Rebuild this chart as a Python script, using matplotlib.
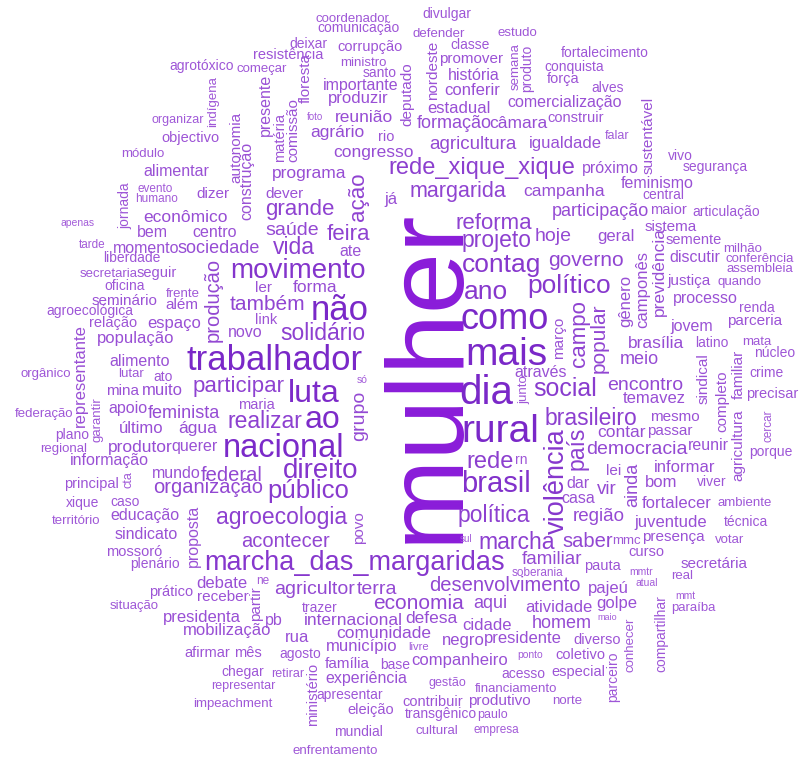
import numpy as np
import matplotlib
matplotlib.use('Agg')
import matplotlib.pyplot as plt
from matplotlib.colors import to_rgb

plt.rcParams['font.family'] = ['Liberation Sans', 'DejaVu Sans']

# word, frequency (drawn as font size in pt), centre x, centre y (pixels), vertical?
headline = [
    ("mulher", 79, 424, 375, 1),
]

top_words = [
    ("coordenador", 9.5, 352, 18, 0), ("comunicação", 10, 358, 28, 0),
    ("divulgar", 10, 447, 14, 0), ("defender", 9.5, 439, 33, 0),
    ("estudo", 9.5, 517, 32, 0), ("classe", 10, 470, 45, 0),
    ("deixar", 10, 308, 44, 0), ("corrupção", 10.5, 370, 47, 0),
    ("resistência", 10.5, 288, 55, 0), ("ministro", 9.5, 363, 62, 0),
    ("agrotóxico", 10, 202, 66, 0), ("começar", 9.5, 262, 68, 0),
    ("santo", 10, 380, 73, 0), ("importante", 11.5, 361, 85, 0),
    ("produzir", 12, 358, 98, 0), ("foto", 7, 315, 117, 0),
    ("reunião", 12.5, 364, 117, 0), ("organizar", 9, 178, 119, 0),
    ("indígena", 9.5, 212, 102, 1), ("autonomia", 11, 236, 147, 1),
    ("construção", 11.5, 247, 181, 1), ("presente", 11.5, 265, 105, 1),
    ("matéria", 10.5, 280, 137, 1), ("comissão", 11, 293, 130, 1),
    ("floresta", 11, 305, 78, 1), ("agrário", 12.5, 337, 132, 0),
    ("rio", 10.5, 386, 137, 0), ("congresso", 12.5, 373, 152, 0),
    ("objectivo", 10.5, 190, 138, 0), ("módulo", 9.5, 143, 153, 0),
    ("promover", 11, 471, 58, 0), ("história", 11.5, 474, 75, 0),
    ("conferir", 12, 472, 90, 0), ("nordeste", 11, 432, 70, 1),
    ("deputado", 11, 407, 94, 1), ("semana", 9.5, 515, 67, 1),
    ("produto", 10, 527, 68, 1), ("estadual", 12, 459, 108, 0),
    ("formação", 13, 454, 123, 0), ("câmara", 12.5, 518, 123, 0),
    ("construir", 10.5, 576, 118, 0), ("comercialização", 11.5, 565, 102, 0),
    ("alves", 10, 608, 88, 0), ("força", 10.5, 563, 79, 0),
    ("conquista", 10, 574, 67, 0), ("fortalecimento", 10, 605, 53, 0),
    ("agricultura", 13.5, 473, 143, 0), ("igualdade", 12, 565, 143, 0),
    ("falar", 9, 617, 135, 0), ("sustentável", 11, 648, 135, 1),
]

left_words = [
    ("alimentar", 11.5, 176, 171, 0), ("apenas", 7.5, 78, 223, 0),
    ("jornada", 10, 125, 206, 1), ("evento", 8.5, 155, 188, 0),
    ("humano", 8.5, 157, 198, 0), ("dizer", 11, 213, 193, 0),
    ("econômico", 12.5, 185, 217, 0), ("bem", 11.5, 152, 232, 0),
    ("centro", 11.5, 215, 232, 0), ("tarde", 8.5, 92, 244, 0),
    ("momento", 11.5, 146, 248, 0), ("sociedade", 13, 219, 248, 0),
    ("liberdade", 10, 132, 258, 0), ("secretaria", 9.5, 109, 273, 0),
    ("seguir", 10.5, 157, 273, 0), ("oficina", 10, 125, 286, 0),
    ("frente", 9.5, 183, 293, 0), ("além", 11, 182, 304, 0),
    ("seminário", 11, 125, 300, 0), ("agroecológica", 10, 90, 311, 0),
    ("relação", 10.5, 113, 323, 0), ("espaço", 12, 174, 323, 0),
    ("população", 12, 136, 338, 0), ("produção", 14.5, 213, 300, 1),
    ("representante", 12, 80, 376, 1), ("orgânico", 9.5, 46, 373, 0),
    ("alimento", 11.5, 140, 361, 0), ("lutar", 9.5, 131, 373, 0),
    ("ato", 10, 163, 377, 0), ("mina", 11, 123, 390, 0),
    ("muito", 12, 162, 390, 0), ("federação", 9.5, 44, 413, 0),
    ("garantir", 9.5, 97, 420, 1), ("apoio", 11.5, 128, 408, 0),
    ("feminista", 13, 184, 413, 0), ("último", 12, 141, 428, 0),
    ("água", 12.5, 198, 428, 0), ("plano", 10, 72, 435, 0),
    ("regional", 9.5, 64, 448, 0), ("produtor", 12.5, 140, 447, 0),
    ("querer", 11.5, 195, 446, 0), ("informação", 11.5, 109, 460, 0),
    ("mundo", 11.5, 176, 473, 0), ("principal", 10.5, 91, 484, 0),
    ("cta", 9, 128, 480, 1), ("xique", 10, 83, 503, 0),
    ("caso", 10, 125, 502, 0), ("território", 9.5, 76, 520, 0),
    ("educação", 11.5, 145, 515, 0), ("proposta", 11.5, 193, 536, 1),
    ("sindicato", 11.5, 146, 534, 0), ("mossoró", 10.5, 134, 552, 0),
    ("plenário", 10, 155, 564, 0), ("prático", 10.5, 171, 592, 0),
    ("situação", 9.5, 134, 605, 0), ("debate", 12, 222, 583, 0),
    ("receber", 11, 223, 596, 0), ("presidenta", 12, 202, 617, 0),
    ("mobilização", 12, 227, 630, 0), ("afirmar", 10.5, 207, 653, 0),
    ("chegar", 10, 243, 672, 0), ("representar", 9, 243, 685, 0),
    ("impeachment", 9.5, 233, 703, 0),
]

centre_words = [
    ("programa", 12.5, 309, 173, 0), ("ação", 16, 357, 197, 1),
    ("dever", 11, 285, 193, 0), ("grande", 16, 300, 208, 0),
    ("saúde", 14, 292, 229, 0), ("feira", 16, 348, 233, 0),
    ("vida", 16.5, 294, 247, 0), ("ate", 11.5, 350, 251, 0),
    ("movimento", 20, 298, 270, 0), ("ler", 11, 263, 287, 0),
    ("forma", 12.5, 315, 287, 0), ("também", 15, 267, 304, 0),
    ("não", 25, 340, 310, 0), ("link", 10.5, 266, 320, 0),
    ("novo", 11.5, 245, 332, 0), ("solidário", 16.5, 323, 333, 0),
    ("trabalhador", 25, 275, 360, 0), ("participar", 16, 239, 385, 0),
    ("luta", 23, 314, 392, 0), ("só", 7.5, 362, 380, 0),
    ("maria", 10.5, 256, 405, 0), ("realizar", 16.5, 265, 421, 0),
    ("ao", 23, 322, 418, 0), ("grupo", 14, 358, 416, 1),
    ("nacional", 23.5, 284, 447, 0), ("federal", 14.5, 232, 475, 0),
    ("direito", 20, 321, 470, 0), ("organização", 14.5, 208, 487, 0),
    ("público", 18.5, 308, 490, 0), ("agroecologia", 16.5, 282, 517, 0),
    ("povo", 11, 358, 528, 1), ("acontecer", 14.5, 285, 541, 0),
    ("marcha_das_margaridas", 19.5, 355, 562, 0), ("ne", 8.5, 263, 580, 0),
    ("agricultor", 14, 315, 588, 0), ("terra", 14, 377, 588, 0),
    ("partir", 11, 255, 604, 1), ("pb", 11.5, 274, 620, 0),
    ("trazer", 10, 320, 608, 0), ("economia", 15, 418, 603, 0),
    ("internacional", 12.5, 353, 620, 0), ("rua", 12, 297, 637, 0),
    ("comunidade", 12.5, 384, 633, 0), ("mês", 10.5, 248, 653, 0),
    ("agosto", 10, 300, 654, 0), ("município", 12, 362, 646, 0),
    ("livre", 8, 419, 647, 0), ("família", 11, 347, 663, 0),
    ("base", 10, 395, 665, 0), ("retirar", 9, 288, 673, 0),
    ("ministério", 10.5, 313, 694, 1), ("experiência", 11.5, 366, 678, 0),
    ("apresentar", 10, 350, 695, 0), ("eleição", 10.5, 371, 710, 0),
    ("mundial", 10, 358, 732, 0), ("enfrentamento", 9.5, 335, 750, 0),
]

right_words = [
    ("rede_xique_xique", 17, 482, 167, 0), ("já", 12, 391, 199, 0),
    ("margarida", 15.5, 458, 191, 0), ("campanha", 12.5, 564, 191, 0),
    ("próximo", 11.5, 610, 168, 0), ("vivo", 10, 680, 156, 0),
    ("segurança", 10, 715, 167, 0), ("feminismo", 11.5, 657, 183, 0),
    ("central", 10, 663, 195, 0), ("reforma", 16, 494, 222, 0),
    ("projeto", 16.5, 497, 240, 0), ("hoje", 14, 553, 235, 0),
    ("participação", 13, 600, 211, 0), ("maior", 10.5, 668, 210, 0),
    ("articulação", 10, 726, 212, 0), ("geral", 12, 616, 236, 0),
    ("sistema", 11, 671, 226, 0), ("semente", 10.5, 694, 240, 0),
    ("milhão", 9.5, 743, 248, 0), ("contag", 19, 502, 264, 0),
    ("governo", 15, 586, 260, 0), ("discutir", 11.5, 695, 257, 0),
    ("conferência", 9.5, 760, 258, 0), ("assembleia", 9.5, 760, 268, 0),
    ("justiça", 11, 689, 280, 0), ("quando", 9.5, 740, 281, 0),
    ("ano", 19, 486, 291, 0), ("político", 19, 569, 285, 0),
    ("gênero", 12, 625, 301, 1), ("camponês", 12, 642, 289, 1),
    ("previdência", 12.5, 659, 272, 1), ("processo", 11.5, 705, 298, 0),
    ("renda", 10, 757, 308, 0), ("parceria", 11, 755, 320, 0),
    ("jovem", 11.5, 692, 326, 0), ("como", 26, 505, 318, 0),
    ("março", 11, 558, 338, 1), ("campo", 16, 578, 334, 1),
    ("popular", 15, 598, 338, 1), ("brasília", 12.5, 656, 343, 0),
    ("latino", 10, 712, 343, 0), ("mata", 9.5, 757, 341, 0),
    ("núcleo", 10, 775, 353, 0), ("mais", 28, 506, 353, 0),
    ("meio", 13, 639, 359, 0), ("crime", 10, 767, 373, 0),
    ("familiar", 11, 738, 374, 1), ("sindical", 11, 703, 379, 1),
    ("através", 11.5, 541, 372, 0), ("junto", 9.5, 523, 390, 1),
    ("social", 18, 565, 389, 0), ("encontro", 14, 645, 384, 0),
    ("dia", 29, 486, 392, 0), ("precisar", 10.5, 772, 394, 0),
    ("temavez", 12, 654, 398, 0), ("completo", 11, 722, 401, 1),
    ("mesmo", 11, 675, 416, 0), ("brasileiro", 16.5, 591, 418, 0),
    ("cercar", 8.5, 768, 426, 1), ("rural", 28, 500, 430, 0),
    ("contar", 12.5, 621, 432, 0), ("passar", 11, 670, 430, 0),
    ("agricultura", 11, 738, 445, 1), ("democracia", 14, 637, 448, 0),
    ("reunir", 11.5, 708, 445, 0), ("porque", 10, 771, 452, 0),
    ("país", 16.5, 577, 448, 1), ("rede", 17, 490, 461, 0),
    ("rn", 10, 521, 460, 0), ("informar", 12, 685, 467, 0),
    ("lei", 11, 614, 470, 0), ("violência", 19.5, 556, 481, 1),
    ("brasil", 21, 496, 483, 0), ("dar", 11.5, 578, 483, 0),
    ("vir", 13.5, 607, 488, 0), ("ainda", 13, 632, 485, 1),
    ("bom", 12, 661, 482, 0), ("viver", 10, 712, 482, 0),
    ("casa", 11.5, 578, 498, 0), ("fortalecer", 12, 677, 503, 0),
    ("ambiente", 9.5, 745, 502, 0), ("política", 16.5, 494, 515, 0),
    ("região", 13.5, 599, 515, 0), ("juventude", 12, 671, 522, 0),
    ("técnica", 10, 746, 522, 0), ("sul", 7, 466, 539, 0),
    ("marcha", 16.5, 517, 542, 0), ("saber", 14.5, 588, 541, 0),
    ("mmc", 9.5, 626, 540, 0), ("presença", 11, 673, 536, 0),
    ("votar", 9.5, 730, 539, 0), ("familiar", 13.5, 552, 558, 0),
    ("pauta", 10.5, 602, 566, 0), ("curso", 10.5, 646, 552, 0),
    ("secretária", 11, 714, 563, 0), ("soberania", 8.5, 537, 572, 0),
    ("mmtr", 7.5, 641, 572, 0), ("real", 9.5, 682, 575, 0),
    ("desenvolvimento", 14.5, 505, 585, 0), ("pajeú", 12, 608, 588, 0),
    ("atual", 7.5, 647, 583, 0), ("mmt", 7.5, 685, 596, 0),
    ("paraíba", 9.5, 693, 607, 0), ("aqui", 13, 490, 603, 0),
    ("atividade", 12, 559, 607, 0), ("golpe", 12, 617, 603, 0),
    ("defesa", 12.5, 431, 618, 0), ("cidade", 12, 487, 625, 0),
    ("homem", 13, 562, 623, 0), ("maio", 6.5, 607, 617, 0),
    ("compartilhar", 10, 661, 634, 1), ("conhecer", 9.5, 630, 645, 1),
    ("negro", 12, 463, 640, 0), ("presidente", 12, 523, 638, 0),
    ("diverso", 10.5, 597, 640, 0), ("companheiro", 12, 460, 660, 0),
    ("ponto", 7.5, 530, 655, 0), ("coletivo", 10.5, 580, 655, 0),
    ("parceiro", 10, 613, 677, 1), ("acesso", 10, 523, 674, 0),
    ("especial", 10.5, 578, 672, 0), ("gestão", 9, 447, 682, 0),
    ("financiamento", 9.5, 516, 688, 0), ("contribuir", 10.5, 433, 702, 0),
    ("produtivo", 11, 499, 700, 0), ("norte", 9.5, 567, 700, 0),
    ("transgênico", 10, 441, 714, 0), ("paulo", 9, 492, 714, 0),
    ("cultural", 9.5, 437, 730, 0), ("empresa", 8.5, 496, 729, 0),
]

LIGHT = np.array(to_rgb('#a35cd9'))
DARK = np.array(to_rgb('#7a28c8'))


def word_colour(size):
    if size > 40:
        return '#8a1cd9'
    t = np.clip((size - 8.0) / 16.0, 0, 1)
    return tuple(LIGHT * (1 - t) + DARK * t)


fig = plt.figure(figsize=(8.01, 7.60), dpi=100)
ax = fig.add_axes([0, 0, 1, 1])
ax.set_xlim(0, 801)
ax.set_ylim(760, 0)
ax.axis('off')

for group in (headline, top_words, left_words, centre_words, right_words):
    for word, size, cx, cy, vertical in group:
        em = size / 0.72  # em height in pixels
        if vertical:
            x, y, rot = cx + 0.3 * em, cy, 90
        else:
            x, y, rot = cx, cy + 0.3 * em, 0
        ax.text(x, y, word, fontsize=size, rotation=rot,
                rotation_mode='anchor', ha='center', va='baseline',
                color=word_colour(size))

fig.savefig('out.png', dpi=100, facecolor='white')
